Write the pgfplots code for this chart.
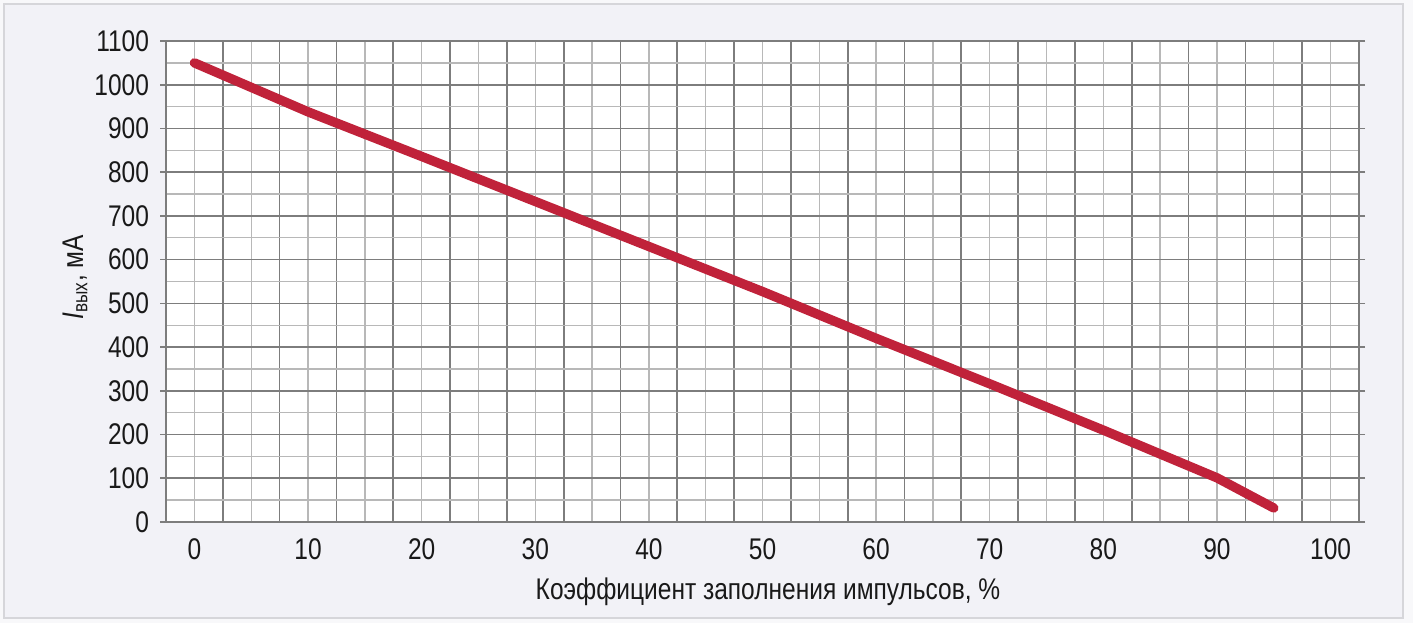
\documentclass[border=0pt]{standalone}
\usepackage{pgfplots}
\pgfplotsset{compat=1.18}
\usepackage{fontspec}
\setmainfont{Liberation Sans}[FakeStretch=0.82]
\definecolor{bgc}{HTML}{F2F2F7}
\definecolor{outc}{HTML}{F8F8FA}
\definecolor{brd}{HTML}{D6D6DA}
\definecolor{darkg}{HTML}{7D7D7D}
\definecolor{lightg}{HTML}{B8B8B8}
\definecolor{linec}{HTML}{C0223A}
\begin{document}
\begin{tikzpicture}
\useasboundingbox (0,0) rectangle (706.5bp,311.5bp);
\fill[outc] (0,0) rectangle (706.5bp,311.5bp);
\filldraw[fill=bgc,draw=brd,line width=0.8bp] (2bp,2.5bp) rectangle (701.5bp,309.5bp);
\begin{axis}[
  at={(83bp,50.5bp)}, anchor=south west,
  scale only axis, width=596.5bp, height=240.5bp,
  xmin=-2.5, xmax=102.5, ymin=0, ymax=1100,
  axis background/.style={fill=white},
  xtick={0,5,...,100},
  xticklabels={0,,10,,20,,30,,40,,50,,60,,70,,80,,90,,100},
  minor xtick={-2.5,2.5,...,102.5},
  ytick={0,100,...,1100},
  minor ytick={50,150,...,1050},
  grid=both,
  major x grid style={lightg,line width=0.7bp},
  minor x grid style={darkg,line width=0.85bp},
  major y grid style={darkg,line width=0.85bp},
  minor y grid style={lightg,line width=0.7bp},
  axis line style={darkg,line width=0.85bp},
  tick align=outside,
  major tick length=3bp, minor tick length=0pt,
  xtick style={draw=none},
  ytick style={darkg,line width=0.85bp},
  every tick label/.append style={font=\fontsize{15}{17}\selectfont, text=black!90},
  /pgf/number format/assume math mode=true,
  /pgf/number format/1000 sep={},
  xticklabel style={yshift=-2bp},
  yticklabel style={xshift=-2bp},
  xlabel={Коэффициент заполнения импульсов, \%},
  xlabel style={at={(axis description cs:0.5046,-0.145)}, anchor=center, font=\fontsize{15}{17}\selectfont, text=black!90},
  ylabel={\textit{I}\textsubscript{вых}, мА},
  ylabel style={at={(axis description cs:-0.0763,0.509)}, anchor=center, rotate=0, font=\fontsize{15}{17}\selectfont, text=black!90},
  clip=false,
]
\addplot[linec, line width=4.7bp, line cap=round, line join=round] coordinates {
(0,1050) (10,938) (20,836) (30,733) (40,630) (50,527) (60,420) (70,316) (80,210) (90,101) (95,32)
};
\end{axis}
\end{tikzpicture}
\end{document}
